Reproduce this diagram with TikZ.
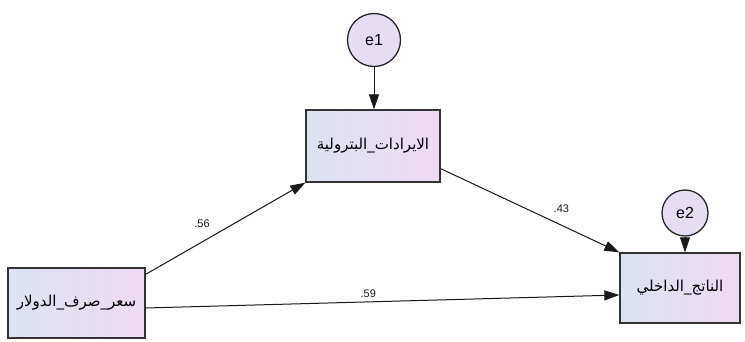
\documentclass[tikz,border=0pt]{standalone}
\usepackage{fontspec}
\setmainfont{Liberation Sans}
\newfontfamily\arabicfont[Script=Arabic]{DejaVu Sans}
\TeXXeTstate=1
\usetikzlibrary{positioning, arrows.meta}
\definecolor{boxleft}{RGB}{220,227,240}
\definecolor{boxright}{RGB}{238,218,243}
\definecolor{errfill}{RGB}{230,221,243}

\begin{document}
\begin{tikzpicture}[
  x=1pt, y=-1pt,
  every node/.style = {align=center, font=\fontsize{11}{12}\selectfont},
  varbox/.style = {draw=black!80, line width=1.3pt, inner sep=0pt, left color=boxleft, right color=boxright, font=\arabicfont\fontsize{15}{16}\selectfont},
  errcirc/.style = {draw=black!85, circle, line width=1.3pt, fill=errfill, inner sep=0pt, minimum size=46pt, font=\fontsize{16}{17}\selectfont},
  arrow/.style = {-{Triangle[length=15pt, width=10pt]}, line width=1pt, black!90}
]
\useasboundingbox (0,0) rectangle (745,342);

% --- variables
\node[varbox, minimum width=137pt, minimum height=70pt] (dollar) at (76.5,303) {\beginR سعر\_صرف\_الدولار\endR};
\node[varbox, minimum width=134pt, minimum height=72pt] (oil) at (373,146) {\beginR الايرادات\_البترولية\endR};
\node[varbox, minimum width=120pt, minimum height=70pt] (gdp) at (680,288) {\beginR الناتج\_الداخلي\endR};

% --- errors
\node[errcirc, minimum size=53pt] (e1) at (374,40) {e1};
\node[errcirc] (e2) at (685,213) {e2};

% --- paths
\draw[arrow] (e1) -- (e1 |- oil.north);
\draw[arrow] (e2) -- (e2 |- gdp.north);
\draw[arrow] ([yshift=-7pt]dollar.north east) -- node[pos=0.45, above left=2pt and 4pt] {.56} (oil.south west);
\draw[arrow] ([yshift=14pt]oil.south east) -- node[pos=0.6, above right=2pt and 2pt] {.43} (gdp.north west);
\draw[arrow] ([yshift=-5pt]dollar.east) -- node[pos=0.47, above] {.59} ([yshift=-7pt]gdp.west);

\end{tikzpicture}
\end{document}
